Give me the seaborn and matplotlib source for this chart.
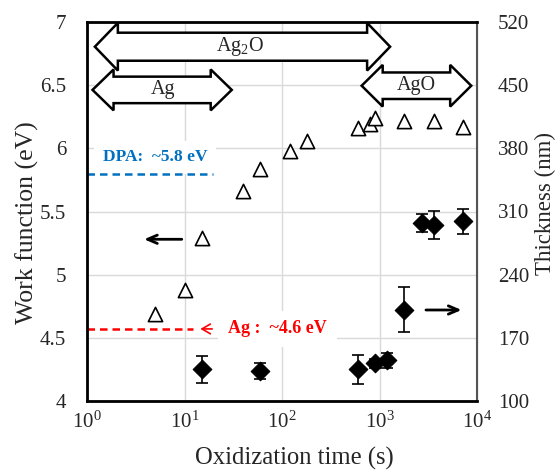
import matplotlib
matplotlib.use("Agg")
import matplotlib.pyplot as plt
import matplotlib.patches as mpatches
from matplotlib.ticker import FuncFormatter, LogLocator, NullLocator
import seaborn as sns
import pandas as pd

# work function (left axis)
time_wf = [5, 10, 15, 40, 60, 120, 180, 600, 800, 900, 1800, 3600, 7200]
work_fn = [4.69, 4.88, 5.29, 5.66, 5.84, 5.98, 6.06, 6.16, 6.19, 6.24, 6.22, 6.22, 6.17]

# film thickness (right axis)
time_th = [15, 60, 600, 900, 1200, 1800, 2700, 3600, 7200]
thick = [135, 133, 135, 142, 145, 201, 297, 295, 299]
thick_err = [15, 9, 16, 5, 8, 25, 10, 15, 14]

dpa_wf = 5.8
ag_wf = 4.57

sns.set_style("white")
plt.rcParams["font.family"] = ["Liberation Serif", "DejaVu Serif"]
plt.rcParams["mathtext.fontset"] = "custom"
plt.rcParams["mathtext.rm"] = "Liberation Serif"
plt.rcParams["mathtext.it"] = "Liberation Serif:italic"

df_wf = pd.DataFrame({"t": time_wf, "wf": work_fn})
df_th = pd.DataFrame({"t": time_th, "th": thick, "err": thick_err})

fig = plt.figure(figsize=(5.58, 4.70), dpi=100)
ax = fig.add_axes([0.156, 0.147, 0.699, 0.806])
ax2 = ax.twinx()

ax.set_xscale("log")
ax.set_xlim(1, 1e4)
ax.set_ylim(4, 7)
ax.set_yticks([4, 4.5, 5, 5.5, 6, 6.5, 7])
ax.yaxis.set_major_formatter(FuncFormatter(lambda v, p: "%g" % v))
ax.xaxis.set_major_locator(LogLocator(base=10, numticks=10))
ax.xaxis.set_minor_locator(NullLocator())
ax.grid(True, color="#d9d9d9", lw=1.0)
ax.set_axisbelow(True)

ax2.set_ylim(100, 520)
ax2.set_yticks(range(100, 521, 70))

sns.scatterplot(data=df_wf, x="t", y="wf", ax=ax, marker="^", s=105,
                facecolor="white", edgecolor="black", linewidth=1.2, zorder=5)

ax2.errorbar(df_th["t"], df_th["th"], yerr=df_th["err"], fmt="none",
             ecolor="black", elinewidth=1.2, capsize=4, capthick=1.2, zorder=4)
sns.scatterplot(data=df_th, x="t", y="th", ax=ax2, marker="D", s=90,
                color="black", edgecolor="black", zorder=5)

# reference levels
ax.plot([1, 19.8], [dpa_wf, dpa_wf], ls=(0, (3, 2)), color="#0070c0", lw=1.8, zorder=4)
ax.text(1.45, 5.93, "DPA:  ~5.8 eV", color="#0070c0", fontsize=12.5, fontweight="bold",
        va="center", ha="left", zorder=3,
        bbox=dict(fc="white", ec="none", pad=6))
ax.plot([1, 12.3], [ag_wf, ag_wf], ls=(0, (3, 2)), color="red", lw=1.8, zorder=4)
ax.text(28, ag_wf, "Ag :  ~4.6 eV", color="red", fontsize=13, fontweight="bold",
        va="center", ha="left", zorder=3,
        bbox=dict(fc="white", ec="none", pad=7))
ax.annotate("", xy=(13.6, ag_wf), xytext=(20.5, ag_wf),
            arrowprops=dict(arrowstyle="->,head_width=0.35,head_length=0.6",
                            color="red", lw=1.2), zorder=4)

# axis pointers
ax.annotate("", xy=(3.6, 5.28), xytext=(10, 5.28),
            arrowprops=dict(arrowstyle="->,head_width=0.3,head_length=0.7",
                            color="black", lw=2), zorder=4)
ax.annotate("", xy=(7400, 4.72), xytext=(2800, 4.72),
            arrowprops=dict(arrowstyle="->,head_width=0.3,head_length=0.7",
                            color="black", lw=2), zorder=4)


def double_arrow(x0, x1, yc, bh, hh, hl):
    pts = [(x0, yc), (x0 + hl, yc + hh), (x0 + hl, yc + bh), (x1 - hl, yc + bh),
           (x1 - hl, yc + hh), (x1, yc), (x1 - hl, yc - hh), (x1 - hl, yc - bh),
           (x0 + hl, yc - bh), (x0 + hl, yc - hh)]
    ax2.add_patch(mpatches.Polygon(pts, closed=True, transform=ax2.transAxes,
                                   fc="white", ec="black", lw=1.8, zorder=6,
                                   clip_on=False))


double_arrow(0.020, 0.777, 0.935, 0.037, 0.063, 0.059)
double_arrow(0.014, 0.371, 0.821, 0.035, 0.054, 0.054)
double_arrow(0.704, 0.985, 0.832, 0.035, 0.055, 0.054)
ax2.text(0.392, 0.935, "Ag$_2$O", transform=ax2.transAxes, ha="center", va="center",
         fontsize=14.5, zorder=7)
ax2.text(0.195, 0.821, "Ag", transform=ax2.transAxes, ha="center", va="center",
         fontsize=14.5, zorder=7)
ax2.text(0.845, 0.832, "AgO", transform=ax2.transAxes, ha="center", va="center",
         fontsize=14.5, zorder=7)

for a in (ax, ax2):
    a.tick_params(length=0, labelsize=15)
ax.tick_params(axis="y", pad=15)
ax.tick_params(axis="x", pad=8)
ax2.tick_params(axis="y", pad=15)

ax.set_xlabel("Oxidization time (s)", fontsize=17.7)
ax.xaxis.set_label_coords(0.531, -0.122)
ax.set_ylabel("Work function (eV)", fontsize=18.5)
ax.yaxis.label.set_verticalalignment("center")
ax.yaxis.set_label_coords(-0.154, 0.47)
ax2.set_ylabel("Thickness (nm)", fontsize=16.5)
ax2.yaxis.label.set_verticalalignment("center")
ax2.yaxis.set_label_coords(1.175, 0.52)

for name in ("left", "top", "bottom"):
    ax2.spines[name].set_color("black")
    ax2.spines[name].set_linewidth(2)
ax2.spines["right"].set_color("#555555")
ax2.spines["right"].set_linewidth(1.5)

fig.savefig("out.png", dpi=100)
